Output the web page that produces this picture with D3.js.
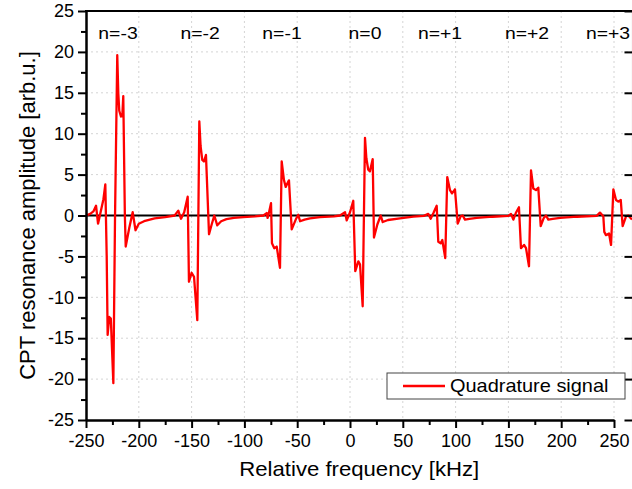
<!DOCTYPE html>
<html>
<head>
<meta charset="utf-8">
<script src="https://cdn.jsdelivr.net/npm/d3@7"></script>
<style>
  body { margin: 0; background: #fff; }
  text { font-family: "Liberation Sans", Arial, sans-serif; fill: #000; }
</style>
</head>
<body>
<div id="chart"></div>
<script>
// chart size and plot box
let width = 632, height = 489;
let plotLeft = 86, plotTop = 11, plotBottom = 420;
let sx = 1.14; // the text in the picture is a bit wider than Arial

// quadrature signal (kHz, arb.u.)
let freq = [
  -250, -246, -243, -240.5, -238.6, -236.5, -233.5, -231.7, -230.4, -229.5, -228, -226.5, -224.1,
  -222.5, -220.4, -219.4, -218.5, -216.9, -215.6, -214.7, -213.2, -212.4, -209, -205.8, -203.1,
  -200, -195, -185, -175, -166, -162.6, -160, -157, -153.7, -152.5, -150, -147.7, -144.6, -142.7,
  -141.5, -139.9, -138.3, -136.4, -133.5, -131, -128.5, -125.7, -122, -117, -110, -101, -90, -82,
  -78.9, -78, -76.5, -74.8, -73.9, -71.7, -69.4, -66.3, -64.7, -62.5, -60.9, -57.8, -55.2, -51.4,
  -49, -47.3, -43, -37.9, -28.4, -15, -9.5, -4.7, -3.1, 0, 3.1, 5.0, 7.9, 9.5, 12.0, 14.2, 15.5,
  17.3, 18.9, 21.5, 22.7, 25.9, 29.1, 31.0, 36, 47.3, 60, 70, 74.1, 76.4, 79, 82.1, 83.6, 85.9,
  87.4, 90.2, 92.1, 94.7, 96.6, 99.4, 102, 104.8, 106.7, 108.9, 113, 120, 135, 150, 152.5, 154.7,
  157, 160, 161.9, 164.8, 166.7, 169.5, 171.4, 173.6, 176.1, 178.3, 180.6, 183.5, 185.6, 187.8,
  192, 198.9, 215, 233.6, 236.7, 239.9, 240.8, 242.4, 245.3, 247.2, 249.4, 251.9, 254.1, 256.4,
  258.2, 261.4, 263.5, 267
];
let signal = [
  0.0, 0.2, 0.5, 1.2, -1.0, 0.2, 2.0, 3.8, -5, -14.6, -12.4, -12.6, -20.5,
  0, 19.6, 14.9, 12.8, 12.1, 12.2, 14.6, 0, -3.8, -1.5, 0.4, -1.8,
  -1.0, -0.7, -0.35, -0.2, 0.0, 0.6, -0.4, 0.4, 2.3, -8.1, -7.0, -7.5, -12.8, 11.5,
  8.5, 6.8, 6.6, 7.4, -2.3, -1.1, 0.0, -1.2, -0.7, -0.45, -0.3, -0.2, -0.1, 0.0,
  0.3, -0.3, 0.5, 1.5, -3.4, -4.0, -3.8, -6.4, 6.6, 4.3, 3.5, 4.3, -1.7, -0.5,
  0.1, -0.7, -0.5, -0.35, -0.2, -0.1, 0.0, 0.4, -0.6, 0.4, 1.8, -6.8, -5.6, -6.0, -11.1, 9.5, 7.0,
  5.6, 5.4, 6.9, -2.7, -1.1, 0.0, -0.8, -0.55, -0.35, -0.15, -0.05, 0.2, -0.4, 0.3, 1.2, -3.2, -3.4,
  -3.0, -5.2, 4.7, 3.1, 2.7, 3.2, -1.0, -0.1, 0.0, -0.5, -0.4, -0.3, -0.15, -0.05, 0.2, -0.5,
  0.3, 1.0, -4.0, -3.6, -4.0, -6.2, 5.5, 3.3, 3.1, 3.4, -1.3, -0.3, 0.0, -0.5,
  -0.4, -0.3, -0.15, -0.05, 0.35, -0.1, -2.0, -2.4, -2.2, -3.6, 3.2, 1.9, 1.7, 1.9,
  -1.3, -0.1, 0.0, -0.5
];

// sideband labels
let bandLabels = ["n=-3", "n=-2", "n=-1", "n=0", "n=+1", "n=+2", "n=+3"];
let bandPos = [-219.7, -142, -64.4, 14.2, 85.2, 167.6, 244.3];

let xTicks = d3.range(-250, 251, 50);
let xMinor = d3.range(-225, 276, 50);
let yTicks = d3.range(-25, 26, 5);
let yMinor = d3.range(-22.5, 23, 5);

let x = d3.scaleLinear().domain([-250, 250]).range([plotLeft, 614]);
let y = d3.scaleLinear().domain([-25, 25]).range([plotBottom, plotTop]);
let plotRight = x(267.5); // the plot runs past the picture edge

let svg = d3.select("#chart")
  .append("svg")
  .attr("width", width)
  .attr("height", height);

svg.append("defs").append("clipPath").attr("id", "clip")
  .append("rect")
  .attr("x", plotLeft).attr("y", plotTop)
  .attr("width", plotRight - plotLeft).attr("height", plotBottom - plotTop);

// dotted grid
svg.append("g")
  .selectAll("line")
  .data(xTicks.slice(1))
  .enter().append("line")
  .attr("x1", d => x(d)).attr("x2", d => x(d))
  .attr("y1", plotTop).attr("y2", plotBottom)
  .attr("stroke", "#d4d4d4").attr("stroke-width", 1)
  .attr("stroke-dasharray", "2,3");
svg.append("g")
  .selectAll("line")
  .data(yTicks.slice(1, -1))
  .enter().append("line")
  .attr("x1", plotLeft).attr("x2", plotRight)
  .attr("y1", d => y(d)).attr("y2", d => y(d))
  .attr("stroke", "#d4d4d4").attr("stroke-width", 1)
  .attr("stroke-dasharray", "2,3");

// zero line
svg.append("line")
  .attr("x1", plotLeft).attr("x2", plotRight)
  .attr("y1", y(0)).attr("y2", y(0))
  .attr("stroke", "#000").attr("stroke-width", 2);

// the signal
let line = d3.line()
  .x((d, i) => x(freq[i]))
  .y(d => y(d));

svg.append("path")
  .datum(signal)
  .attr("clip-path", "url(#clip)")
  .attr("d", line)
  .attr("fill", "none")
  .attr("stroke", "#ff0000")
  .attr("stroke-width", 2.3)
  .attr("stroke-linejoin", "round");

// axes (plain hyphen for negatives, like the original)
let fmt = d => String(d);

let xAxis = svg.append("g")
  .attr("transform", "translate(0," + plotBottom + ")")
  .call(d3.axisBottom(x).tickValues(xTicks).tickFormat(fmt).tickSize(8).tickPadding(6).tickSizeOuter(0));
svg.append("g")
  .attr("transform", "translate(0," + plotBottom + ")")
  .call(d3.axisBottom(x).tickValues(xMinor).tickSize(5).tickFormat("").tickSizeOuter(0));

let yAxis = svg.append("g")
  .attr("transform", "translate(" + plotLeft + ",0)")
  .call(d3.axisLeft(y).tickValues(yTicks).tickFormat(fmt).tickSize(8).tickPadding(4).tickSizeOuter(0));
svg.append("g")
  .attr("transform", "translate(" + plotLeft + ",0)")
  .call(d3.axisLeft(y).tickValues(yMinor).tickSize(5).tickFormat("").tickSizeOuter(0));

// mirrored right axis, mostly outside the picture
svg.append("g")
  .attr("transform", "translate(" + plotRight + ",0)")
  .call(d3.axisRight(y).tickValues(yTicks).tickSize(-8).tickFormat("").tickSizeOuter(0));

svg.selectAll(".domain").attr("stroke-width", 2);
svg.selectAll(".tick line").attr("stroke-width", 2);

xAxis.selectAll("text")
  .style("font-size", "18px");
yAxis.selectAll("text")
  .style("font-size", "18px");

// top border
svg.append("line")
  .attr("x1", plotLeft - 1).attr("x2", plotRight)
  .attr("y1", plotTop).attr("y2", plotTop)
  .attr("stroke", "#000").attr("stroke-width", 2);

// sideband labels
svg.selectAll(".band")
  .data(bandLabels)
  .enter().append("text")
  .attr("class", "band")
  .attr("transform", (d, i) => "translate(" + x(bandPos[i]) + ",39) scale(" + sx + ",1)")
  .attr("text-anchor", "middle")
  .style("font-size", "17px")
  .text(d => d);

// axis titles
svg.append("text")
  .attr("transform", "translate(" + ((plotLeft + plotRight) / 2) + ",476) scale(1.08,1)")
  .attr("text-anchor", "middle")
  .style("font-size", "20.5px")
  .text("Relative frequency [kHz]");

svg.append("text")
  .attr("transform", "translate(35," + ((plotTop + plotBottom) / 2) + ") rotate(-90)")
  .attr("text-anchor", "middle")
  .style("font-size", "22px")
  .text("CPT resonance amplitude [arb.u.]");

// legend
let legend = svg.append("g").attr("transform", "translate(387,373)");
legend.append("rect")
  .attr("width", 238).attr("height", 26)
  .attr("fill", "#fff").attr("stroke", "#444").attr("stroke-width", 1);
legend.append("line")
  .attr("x1", 16).attr("x2", 58).attr("y1", 13).attr("y2", 13)
  .attr("stroke", "#ff0000").attr("stroke-width", 2.3);
legend.append("text")
  .attr("transform", "translate(63,19) scale(" + sx + ",1)")
  .style("font-size", "17.5px")
  .text("Quadrature signal");
</script>
</body>
</html>
